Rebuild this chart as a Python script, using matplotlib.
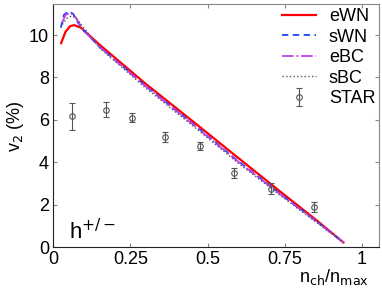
import numpy as np
import matplotlib.pyplot as plt

# model curves (n_ch/n_max, v2 in %)
x_ewn = [0.026, 0.04, 0.055, 0.068, 0.09, 0.15, 0.3, 0.45, 0.6, 0.75, 0.85, 0.94]
v_ewn = [9.62, 10.15, 10.42, 10.47, 10.35, 9.55, 7.7, 5.96, 4.2, 2.45, 1.3, 0.22]

x_swn = [0.025, 0.035, 0.05, 0.065, 0.08, 0.1, 0.15, 0.3, 0.45, 0.6, 0.75, 0.85, 0.94]
v_swn = [10.35, 10.95, 11.13, 11.0, 10.6, 10.2, 9.45, 7.6, 5.85, 4.05, 2.35, 1.25, 0.22]

x_ebc = [0.03, 0.04, 0.055, 0.07, 0.085, 0.1, 0.15, 0.3, 0.45, 0.6, 0.75, 0.85, 0.94]
v_ebc = [10.6, 10.95, 11.05, 10.9, 10.55, 10.2, 9.45, 7.58, 5.82, 4.02, 2.33, 1.23, 0.22]

x_sbc = [0.03, 0.045, 0.06, 0.075, 0.09, 0.11, 0.15, 0.3, 0.45, 0.6, 0.75, 0.85, 0.94]
v_sbc = [10.5, 10.8, 10.9, 10.8, 10.5, 10.15, 9.4, 7.5, 5.75, 3.95, 2.28, 1.2, 0.22]

# STAR data
x_star = [0.062, 0.171, 0.255, 0.363, 0.477, 0.587, 0.705, 0.846]
v_star = [6.16, 6.48, 6.1, 5.2, 4.76, 3.5, 2.75, 1.89]
e_star = [0.65, 0.35, 0.22, 0.22, 0.2, 0.25, 0.25, 0.25]

plt.rcParams["font.family"] = ["Liberation Sans", "DejaVu Sans"]

fig = plt.figure(figsize=(3.82, 2.89), dpi=100)
ax = fig.add_axes([0.139, 0.145, 0.853, 0.84])

ax.plot(x_ewn, v_ewn, color="red", lw=1.6, label="eWN")
ax.plot(x_swn, v_swn, color="#2040ff", lw=1.3, ls=(0, (3.5, 2.5)), label="sWN")
ax.plot(x_ebc, v_ebc, color="#c040f0", lw=1.3, ls="-.", label="eBC")
ax.plot(x_sbc, v_sbc, color="#555555", lw=1.0, ls=":", label="sBC")
ax.errorbar(x_star, v_star, yerr=e_star, fmt="o", color="#555555", mfc="none",
            ms=4, mew=0.8, elinewidth=0.8, capsize=2, capthick=0.8, label="STAR")

ax.set_xlim(0, 1.055)
ax.set_ylim(0, 11.45)
ax.set_xticks([0, 0.25, 0.5, 0.75, 1])
ax.set_xticklabels(["0", "0.25", "0.5", "0.75", "1"])
ax.set_yticks([0, 2, 4, 6, 8, 10])
ax.tick_params(direction="in", top=True, right=True, labelsize=13, length=3,
               color="#888888", pad=3)
for side in ["top", "right"]:
    ax.spines[side].set_color("#888888")
for side in ["left", "bottom"]:
    ax.spines[side].set_color("#222222")

ax.set_ylabel("v$_2$ (%)", fontsize=13, labelpad=2)
fig.text(0.965, 0.008, "n$_{\\rm ch}$/n$_{\\rm max}$", ha="right", va="bottom",
         fontsize=13)
ax.text(0.05, 0.35, "h$^{+/-}$", fontsize=16)

leg = ax.legend(loc="upper right", bbox_to_anchor=(1.0, 1.0), frameon=False,
                fontsize=13, handlelength=1.9, labelspacing=0.2,
                borderaxespad=0.0, borderpad=0.2, handletextpad=0.7)

fig.savefig("out.png", dpi=100)
